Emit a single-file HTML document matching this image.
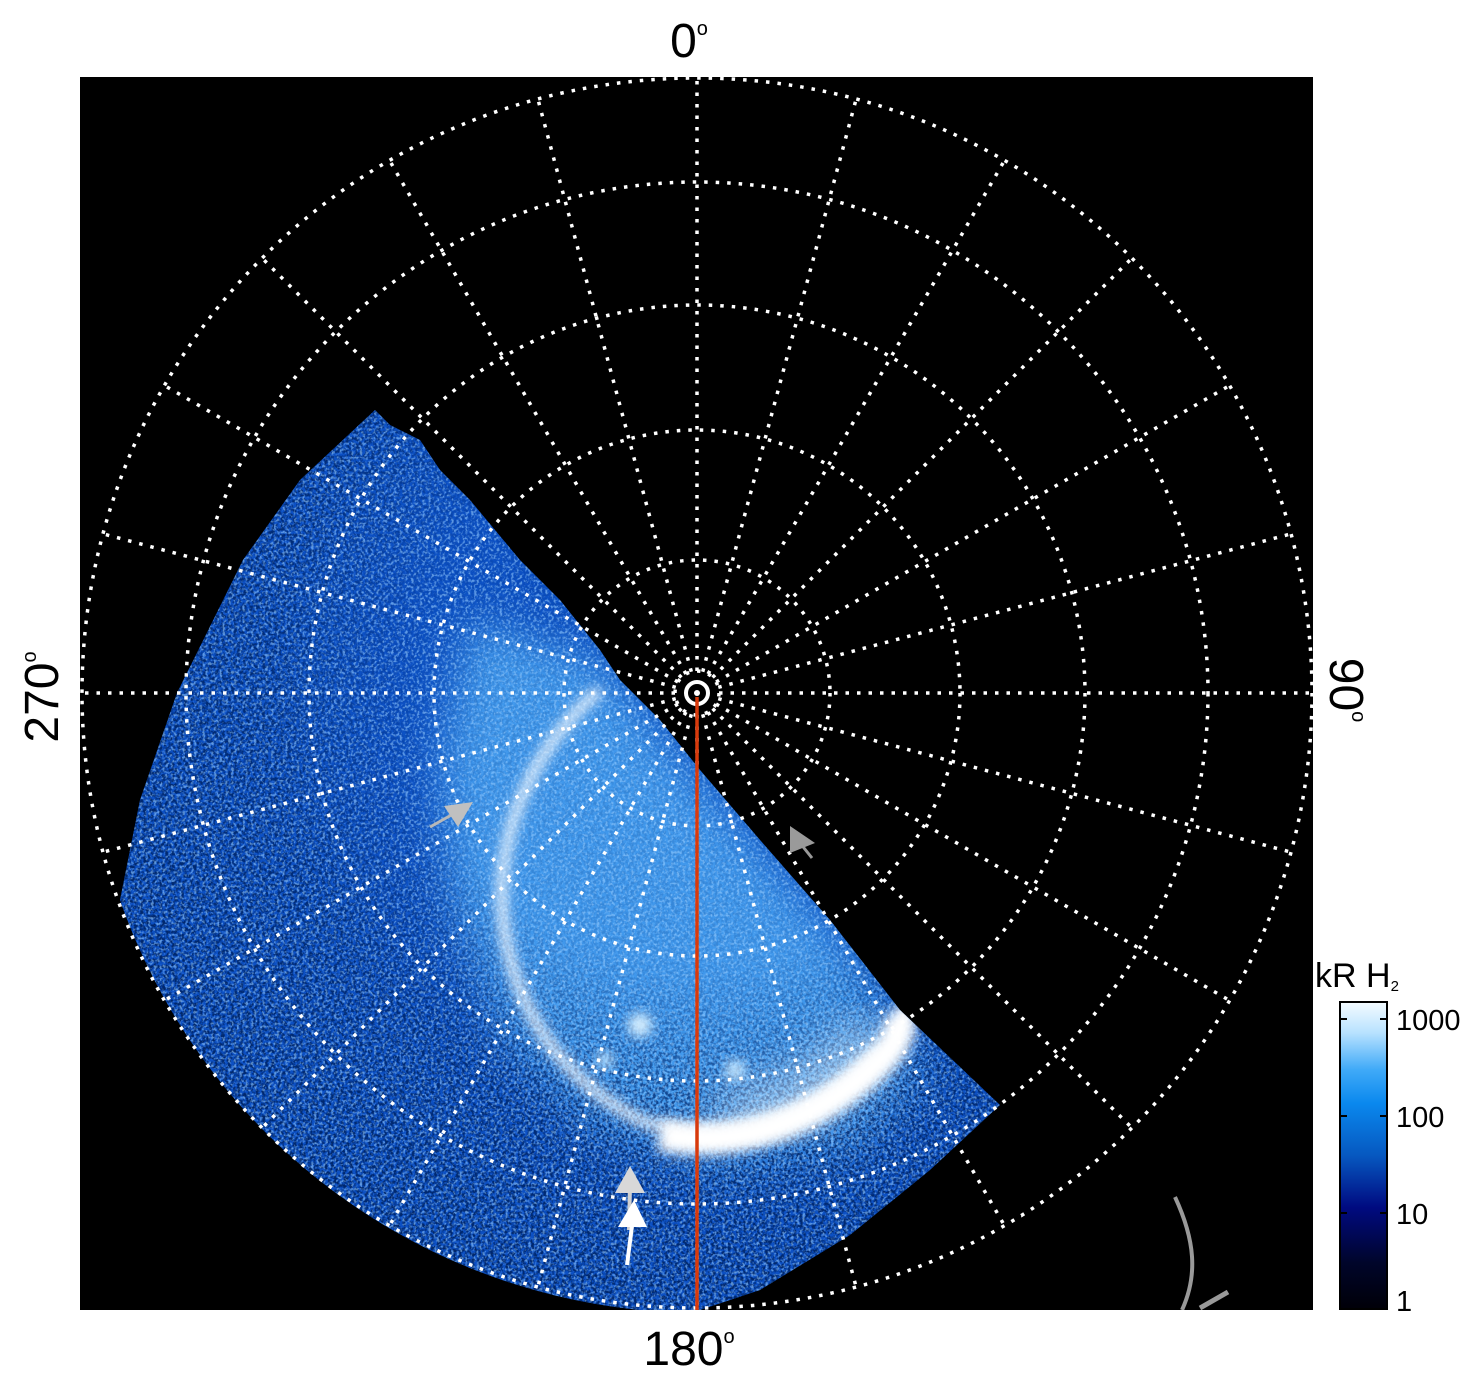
<!DOCTYPE html>
<html><head><meta charset="utf-8"><style>
html,body{margin:0;padding:0;background:#fff;}
svg{display:block;}
text{font-family:"Liberation Sans",sans-serif;}
</style></head><body>
<svg width="1481" height="1386" viewBox="0 0 1481 1386" xmlns="http://www.w3.org/2000/svg">
<defs>
<clipPath id="plot"><rect x="80" y="77" width="1233" height="1233"/></clipPath>
<clipPath id="aur"><path d="M375,410 L390,425 L420,440 L440,470 L470,500 L520,560 L560,600 L600,650 L620,680 L640,700 L660,720 L680,745 L700,770 L760,840 L830,920 L900,1010 L1000,1105 L930,1170 L850,1235 L760,1290 L700,1310 L640,1310 A615 615 0 0 1 120,900 L140,800 L177,693 L243,560 L300,480 Z"/></clipPath>
<filter id="blur6" x="-30%" y="-30%" width="160%" height="160%"><feGaussianBlur stdDeviation="6"/></filter>
<filter id="blur20" x="-30%" y="-30%" width="160%" height="160%"><feGaussianBlur stdDeviation="22"/></filter>
<filter id="speck" x="0" y="0" width="100%" height="100%">
<feTurbulence type="fractalNoise" baseFrequency="0.32" numOctaves="2" seed="3"/>
<feColorMatrix type="matrix" values="0 0 0 0 0  0 0 0 0 0.02  0 0 0 0 0.15  4 0 0 0 -1.55"/>
</filter>
<filter id="speck2" x="0" y="0" width="100%" height="100%">
<feTurbulence type="fractalNoise" baseFrequency="0.35" numOctaves="2" seed="9"/>
<feColorMatrix type="matrix" values="0 0 0 0 0.3  0 0 0 0 0.6  0 0 0 0 1  4 0 0 0 -1.9"/>
</filter>
<radialGradient id="fade" cx="697" cy="693" r="615" gradientUnits="userSpaceOnUse">
<stop offset="0.45" stop-color="#fff" stop-opacity="0.15"/>
<stop offset="0.7" stop-color="#fff" stop-opacity="0.85"/>
<stop offset="1" stop-color="#fff" stop-opacity="1"/>
</radialGradient>
<mask id="outerMask"><rect x="0" y="0" width="1481" height="1386" fill="url(#fade)"/></mask>
<linearGradient id="cb" x1="0" y1="0" x2="0" y2="1">
<stop offset="0" stop-color="#f4fbff"/>
<stop offset="0.1" stop-color="#b8e2ff"/>
<stop offset="0.22" stop-color="#40aaf8"/>
<stop offset="0.33" stop-color="#0a88ee"/>
<stop offset="0.5" stop-color="#0658c0"/>
<stop offset="0.67" stop-color="#000a80"/>
<stop offset="0.85" stop-color="#00052a"/>
<stop offset="1" stop-color="#000008"/>
</linearGradient>
</defs>

<rect x="80" y="77" width="1233" height="1233" fill="#000"/>

<g clip-path="url(#plot)">
 <g clip-path="url(#aur)">
  <rect x="80" y="300" width="1000" height="1010" fill="#0c50c4"/>
  <path d="M470,620 L600,660 L700,780 L860,960 L930,1070 L860,1150 L720,1175 L590,1130 L500,1040 L450,900 L440,760 Z" fill="#3f98ec" filter="url(#blur20)"/>
  <rect x="80" y="300" width="1000" height="1010" filter="url(#speck)" mask="url(#outerMask)"/>
  <rect x="80" y="300" width="1000" height="1010" filter="url(#speck2)" opacity="0.6"/>
  <path d="M600,690 C540,740 500,820 502,900 C505,1000 560,1080 640,1120 C720,1150 820,1120 880,1050" fill="none" stroke="#ffffff" stroke-width="11" stroke-opacity="0.85" filter="url(#blur6)"/>
  <path d="M720,1120 C800,1110 860,1060 870,1030" fill="none" stroke="#e8f6ff" stroke-width="44" stroke-opacity="0.6" filter="url(#blur20)"/>
  <path d="M660,1135 C740,1150 820,1120 880,1060 C900,1040 905,1020 895,1010" fill="none" stroke="#ffffff" stroke-width="32" filter="url(#blur6)"/>
  <circle cx="640" cy="1025" r="12" fill="#d8f0ff" filter="url(#blur6)"/>
  <circle cx="735" cy="1070" r="10" fill="#c8e8ff" filter="url(#blur6)"/>
  <circle cx="605" cy="1060" r="8" fill="#c8e8ff" filter="url(#blur6)"/>
 </g>

 <g fill="none" stroke="#fff" stroke-width="3.5" stroke-dasharray="3.5 8">
  <circle cx="697" cy="693" r="22"/>
  <circle cx="697" cy="693" r="133"/>
  <circle cx="697" cy="693" r="263"/>
  <circle cx="697" cy="693" r="388"/>
  <circle cx="697" cy="693" r="511"/>
  <circle cx="697" cy="693" r="615"/>
  <g>
   <line x1="697" y1="671" x2="697" y2="78"/>
   <line x1="697" y1="671" x2="697" y2="78" transform="rotate(15 697 693)"/>
   <line x1="697" y1="671" x2="697" y2="78" transform="rotate(30 697 693)"/>
   <line x1="697" y1="671" x2="697" y2="78" transform="rotate(45 697 693)"/>
   <line x1="697" y1="671" x2="697" y2="78" transform="rotate(60 697 693)"/>
   <line x1="697" y1="671" x2="697" y2="78" transform="rotate(75 697 693)"/>
   <line x1="697" y1="671" x2="697" y2="78" transform="rotate(90 697 693)"/>
   <line x1="697" y1="671" x2="697" y2="78" transform="rotate(105 697 693)"/>
   <line x1="697" y1="671" x2="697" y2="78" transform="rotate(120 697 693)"/>
   <line x1="697" y1="671" x2="697" y2="78" transform="rotate(135 697 693)"/>
   <line x1="697" y1="671" x2="697" y2="78" transform="rotate(150 697 693)"/>
   <line x1="697" y1="671" x2="697" y2="78" transform="rotate(165 697 693)"/>
   <line x1="697" y1="671" x2="697" y2="78" transform="rotate(180 697 693)"/>
   <line x1="697" y1="671" x2="697" y2="78" transform="rotate(195 697 693)"/>
   <line x1="697" y1="671" x2="697" y2="78" transform="rotate(210 697 693)"/>
   <line x1="697" y1="671" x2="697" y2="78" transform="rotate(225 697 693)"/>
   <line x1="697" y1="671" x2="697" y2="78" transform="rotate(240 697 693)"/>
   <line x1="697" y1="671" x2="697" y2="78" transform="rotate(255 697 693)"/>
   <line x1="697" y1="671" x2="697" y2="78" transform="rotate(270 697 693)"/>
   <line x1="697" y1="671" x2="697" y2="78" transform="rotate(285 697 693)"/>
   <line x1="697" y1="671" x2="697" y2="78" transform="rotate(300 697 693)"/>
   <line x1="697" y1="671" x2="697" y2="78" transform="rotate(315 697 693)"/>
   <line x1="697" y1="671" x2="697" y2="78" transform="rotate(330 697 693)"/>
   <line x1="697" y1="671" x2="697" y2="78" transform="rotate(345 697 693)"/>
  </g>
 </g>
 <circle cx="697" cy="693" r="11" fill="none" stroke="#fff" stroke-width="4"/>
 <circle cx="697" cy="693" r="3" fill="#fff"/>
 <line x1="697" y1="697" x2="697" y2="1310" stroke="#d83a0c" stroke-width="3.5"/>

 <line x1="430" y1="827" x2="455" y2="813" stroke="#b8b8b8" stroke-width="3"/>
 <polygon points="473,802 444,806 458,827" fill="#c0c0c0"/>
 <line x1="812" y1="858" x2="800" y2="843" stroke="#999" stroke-width="3"/>
 <polygon points="790,826 790,853 815,843" fill="#9a9a9a"/>
 <line x1="629" y1="1230" x2="630" y2="1185" stroke="#d0d0d0" stroke-width="4"/>
 <polygon points="630,1166 615,1193 645,1193" fill="#d8d8d8"/>
 <line x1="627" y1="1265" x2="633" y2="1218" stroke="#fff" stroke-width="4"/>
 <polygon points="634,1200 618,1227 647,1227" fill="#fff"/>

 <path d="M1175,1197 C1195,1240 1198,1275 1182,1310" fill="none" stroke="#999" stroke-width="4"/>
 <line x1="1228" y1="1292" x2="1200" y2="1308" stroke="#999" stroke-width="5"/>
</g>

<text x="689" y="57" font-size="48" text-anchor="middle">0<tspan font-size="20" dy="-22">o</tspan></text>
<text x="689" y="1365" font-size="48" text-anchor="middle">180<tspan font-size="20" dy="-22">o</tspan></text>
<text transform="translate(58 697) rotate(-90)" font-size="48" text-anchor="middle">270<tspan font-size="20" dy="-22">o</tspan></text>
<text transform="translate(1330 690) rotate(90)" font-size="48" text-anchor="middle">90<tspan font-size="20" dy="-22">o</tspan></text>

<text x="1315" y="987" font-size="34">kR H<tspan font-size="15" dy="4">2</tspan></text>
<rect x="1340" y="1002" width="47" height="307" fill="url(#cb)" stroke="#000" stroke-width="2"/>
<g stroke="#000" stroke-width="2">
 <line x1="1387" y1="1019" x2="1380" y2="1019"/><line x1="1340" y1="1019" x2="1347" y2="1019"/>
 <line x1="1387" y1="1116" x2="1380" y2="1116"/><line x1="1340" y1="1116" x2="1347" y2="1116"/>
 <line x1="1387" y1="1213" x2="1380" y2="1213"/><line x1="1340" y1="1213" x2="1347" y2="1213"/>
</g>
<g font-size="29">
 <text x="1396" y="1030">1000</text>
 <text x="1396" y="1127">100</text>
 <text x="1396" y="1224">10</text>
 <text x="1396" y="1311">1</text>
</g>
</svg>
</body></html>
